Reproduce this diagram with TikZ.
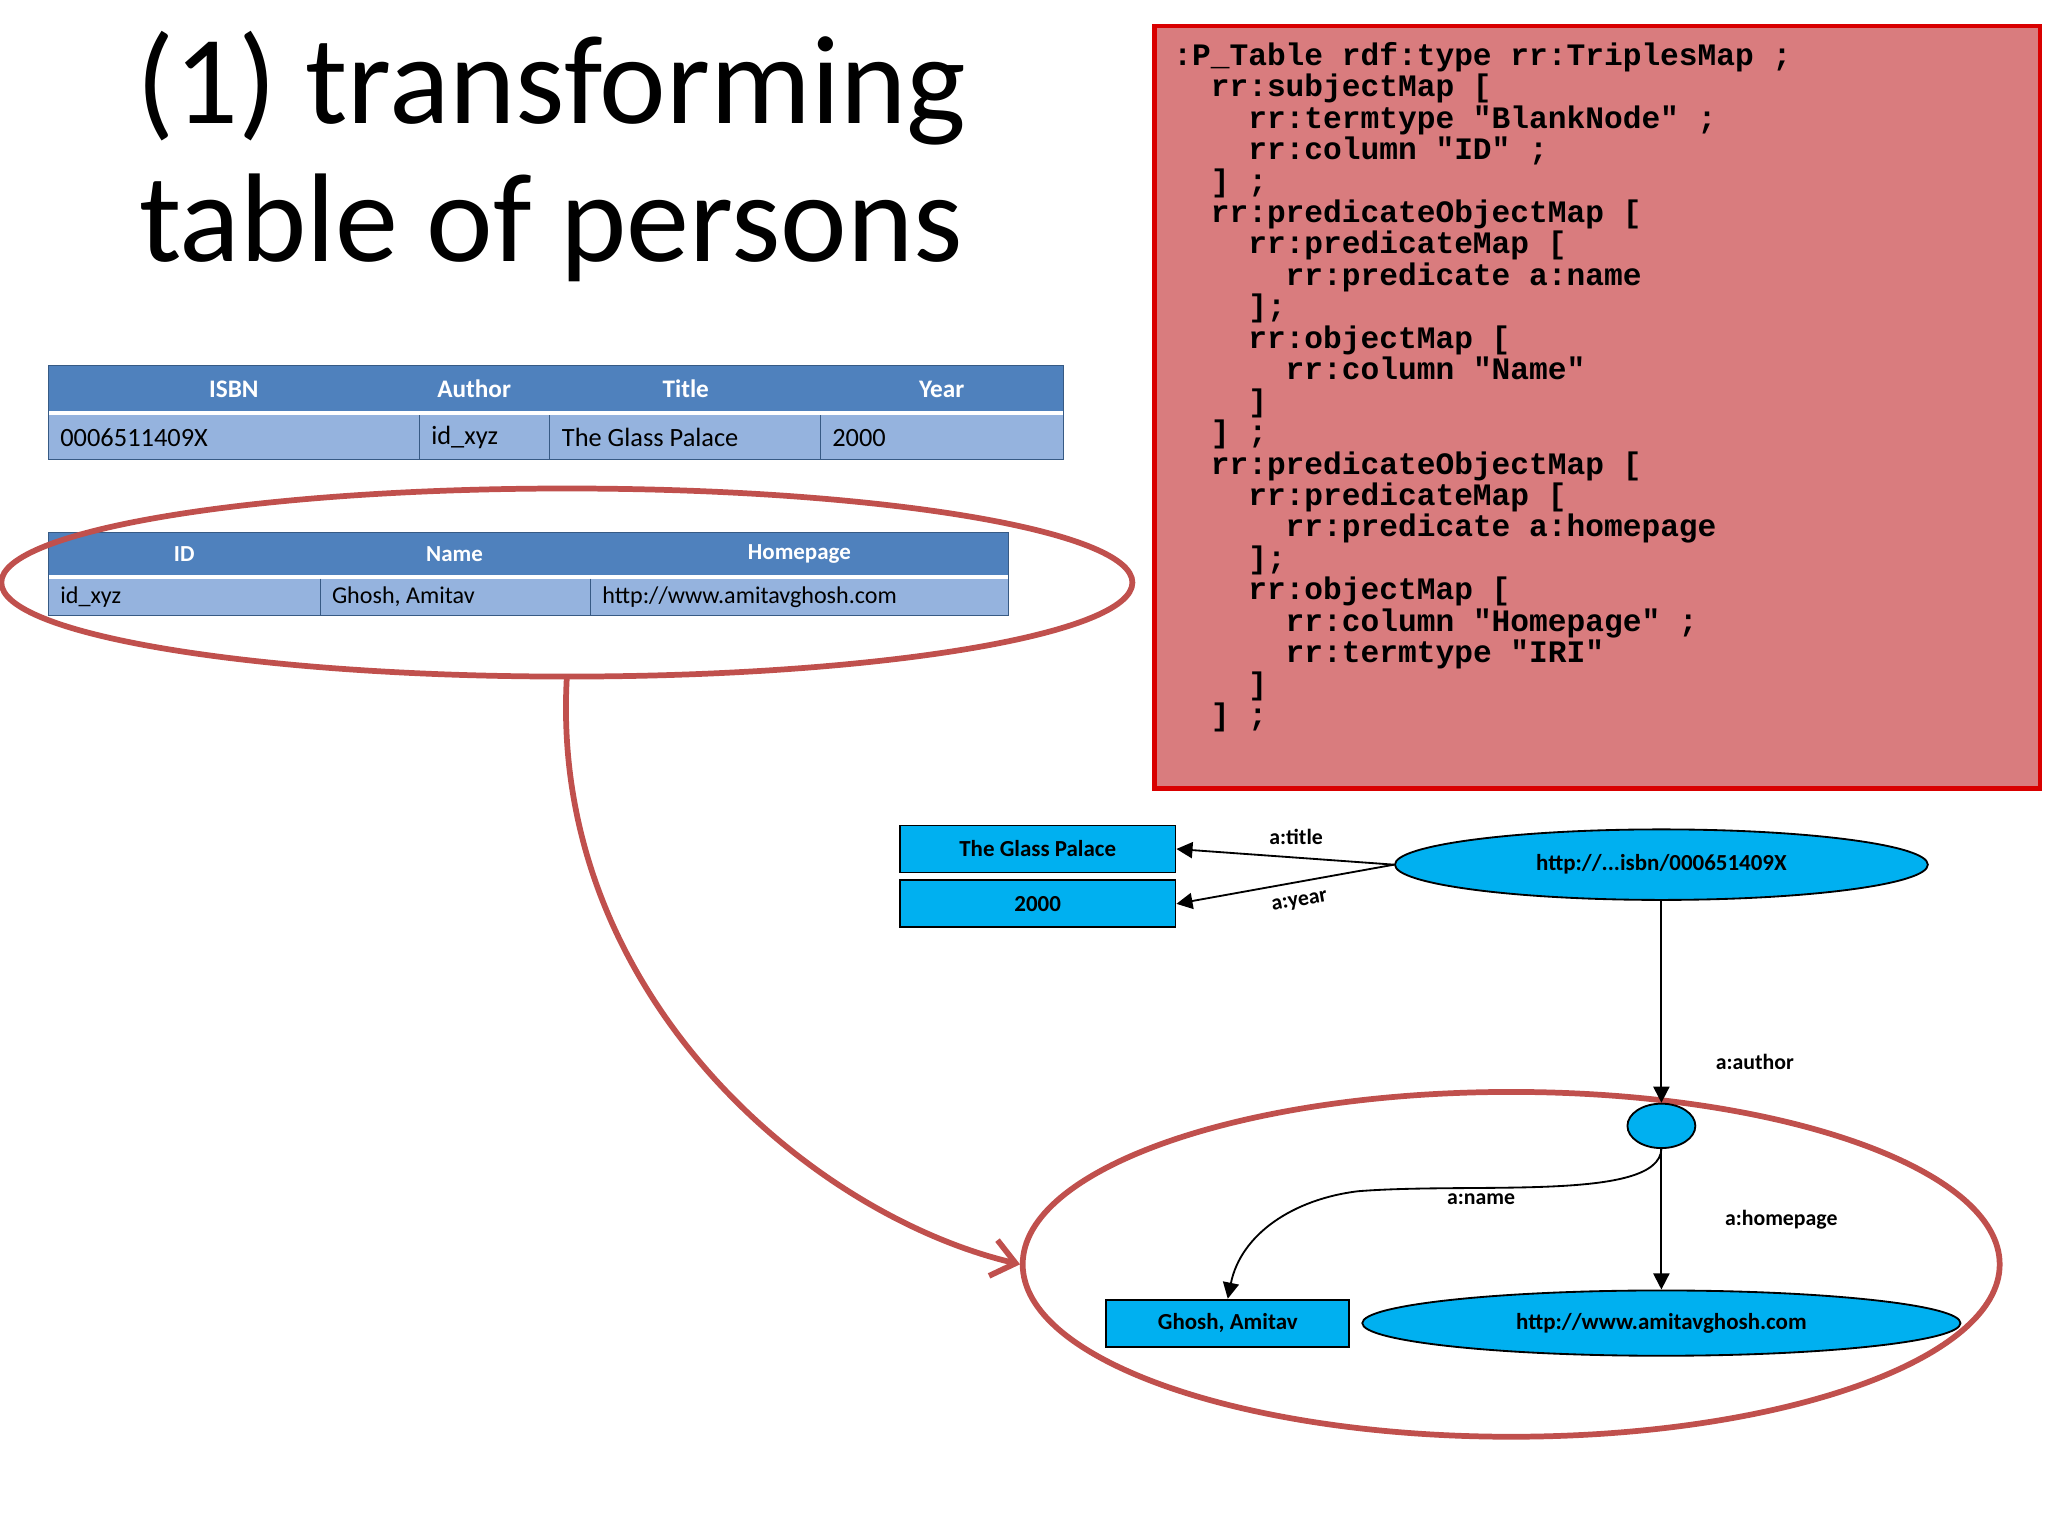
\documentclass[tikz,border=0pt]{standalone}
\usepackage{fontspec}
\setmainfont{Carlito}
\newfontfamily\codefont{Liberation Mono}
\usetikzlibrary{shapes.geometric,arrows.meta}
\definecolor{hdr}{RGB}{79,129,189}
\definecolor{rowc}{RGB}{149,179,222}
\definecolor{ell}{RGB}{192,80,77}
\definecolor{codebg}{RGB}{217,124,126}
\definecolor{cyanb}{RGB}{0,176,240}
\tikzset{
  hcell/.style={fill=hdr,text=white,font=\bfseries\fontsize{11}{13}\selectfont},
  rtext/.style={anchor=west,font=\fontsize{11.5}{13}\selectfont},
  gbox/.style={draw=black,fill=cyanb,thick,minimum height=0.72cm,font=\bfseries\fontsize{10}{12}\selectfont},
  gell/.style={draw=black,fill=cyanb,thick,ellipse,font=\bfseries\fontsize{10}{12}\selectfont},
  elab/.style={font=\bfseries\fontsize{9.5}{11}\selectfont},
  edge/.style={-{Triangle[length=7pt,width=7pt]},thick}
}
\begin{document}
\begin{tikzpicture}[x=0.02cm,y=-0.02cm]
\useasboundingbox[fill=white] (0,0) rectangle (1568,1176);
% title
\node[font=\fontsize{55}{60}\selectfont,align=center] (title) at (422,120) {(1) transforming\\table of persons};
% code box
\node[draw=red!85!black,line width=2pt,fill=codebg,minimum width=678*0.02cm,minimum height=584*0.02cm,anchor=north west] (code) at (882,18) {};
\node[anchor=north west,align=left,font=\codefont\bfseries\fontsize{13.6}{13.7}\selectfont,inner sep=0pt] (codetxt) at (898,32) {%
:P\_Table rdf:type rr:TriplesMap ;\\
\ \ rr:subjectMap [\\
\ \ \ \ rr:termtype "BlankNode" ;\\
\ \ \ \ rr:column "ID" ;\\
\ \ ] ;\\
\ \ rr:predicateObjectMap [\\
\ \ \ \ rr:predicateMap [\\
\ \ \ \ \ \ rr:predicate a:name\\
\ \ \ \ ];\\
\ \ \ \ rr:objectMap [\\
\ \ \ \ \ \ rr:column "Name"\\
\ \ \ \ ]\\
\ \ ] ;\\
\ \ rr:predicateObjectMap [\\
\ \ \ \ rr:predicateMap [\\
\ \ \ \ \ \ rr:predicate a:homepage\\
\ \ \ \ ];\\
\ \ \ \ rr:objectMap [\\
\ \ \ \ \ \ rr:column "Homepage" ;\\
\ \ \ \ \ \ rr:termtype "IRI"\\
\ \ \ \ ]\\
\ \ ] ;};
% book table
\fill[hdr] (37,280) rectangle (814,315);
\fill[rowc] (37,318) rectangle (814,352);
\draw[hdr!70!black] (37,280) rectangle (814,352);
\foreach \x in {321,421,628} \draw[hdr!70!black] (\x,318) -- (\x,352);
\node[hcell,fill=none] (h1) at (179,298) {ISBN};
\node[hcell,fill=none] (h2) at (363,298) {Author};
\node[hcell,fill=none] (h3) at (525,298) {Title};
\node[hcell,fill=none] (h4) at (721,298) {Year};
\node[rtext] (r1) at (40,335) {0006511409X};
\node[rtext] (r2) at (324,335) {id\_xyz};
\node[rtext] (r3) at (424,335) {The Glass Palace};
\node[rtext] (r4) at (631,335) {2000};
% person table
\fill[hdr] (37,408) rectangle (772,440);
\fill[rowc] (37,443) rectangle (772,471);
\draw[hdr!70!black] (37,408) rectangle (772,471);
\foreach \x in {245,452} \draw[hdr!70!black] (\x,443) -- (\x,471);
\node[hcell,fill=none,font=\bfseries\fontsize{10}{12}\selectfont] (p1) at (141,424) {ID};
\node[hcell,fill=none,font=\bfseries\fontsize{10}{12}\selectfont] (p2) at (348,424) {Name};
\node[hcell,fill=none,font=\bfseries\fontsize{10}{12}\selectfont] (p3) at (612,424) {Homepage};
\node[rtext,font=\fontsize{10.5}{12}\selectfont] (q1) at (40,457) {id\_xyz};
\node[rtext,font=\fontsize{10.5}{12}\selectfont] (q2) at (248,457) {Ghosh, Amitav};
\node[rtext,font=\fontsize{10.5}{12}\selectfont] (q3) at (455,457) {http://www.amitavghosh.com};
% red ellipses
\draw[ell,line width=2.5pt] (434,446) ellipse [x radius=433, y radius=72];
\draw[ell,line width=2.5pt] (1157,968) ellipse [x radius=374, y radius=132];
\coordinate (e1) at (434,518);
\coordinate (e2) at (781,968);
\draw[ell,line width=2.5pt,-{Straight Barb[length=10pt,width=16pt]}] (e1) .. controls (420,760) and (620,930) .. (e2);
% graph
\node[gbox,minimum width=211*0.02cm] (tgp) at (794.5,650) {The Glass Palace};
\node[gbox,minimum width=211*0.02cm] (y2000) at (794.5,692) {2000};
\node[gell,minimum width=408*0.02cm,minimum height=54*0.02cm] (isbn) at (1272,662) {http://...isbn/000651409X};
\node[gell,minimum width=52*0.02cm,minimum height=34*0.02cm,inner sep=0pt] (bn) at (1272,862) {};
\node[gbox,minimum width=186*0.02cm] (gh) at (940,1013) {Ghosh, Amitav};
\node[gell,minimum width=458*0.02cm,minimum height=50*0.02cm] (hp) at (1272,1013) {http://www.amitavghosh.com};
\draw[edge] (isbn.west) -- (tgp.east) node[elab,pos=0.45,above=2pt] {a:title};
\draw[edge] (isbn.west) -- (y2000.east) node[elab,pos=0.45,below=2pt,sloped] {a:year};
\draw[edge] (isbn.south) -- (bn.north) node[elab,pos=0.8,right=20pt] {a:author};
\draw[edge] (bn.south) .. controls (1270,920) and (1130,905) .. (1040,912) .. controls (990,918) and (950,945) .. (gh.north) node[elab,pos=0.02,above=2pt] {};
\node[elab] (nl) at (1134,918) {a:name};
\draw[edge] (bn.south) -- (hp.north) node[elab,pos=0.5,right=24pt] {a:homepage};
\end{tikzpicture}
\end{document}
